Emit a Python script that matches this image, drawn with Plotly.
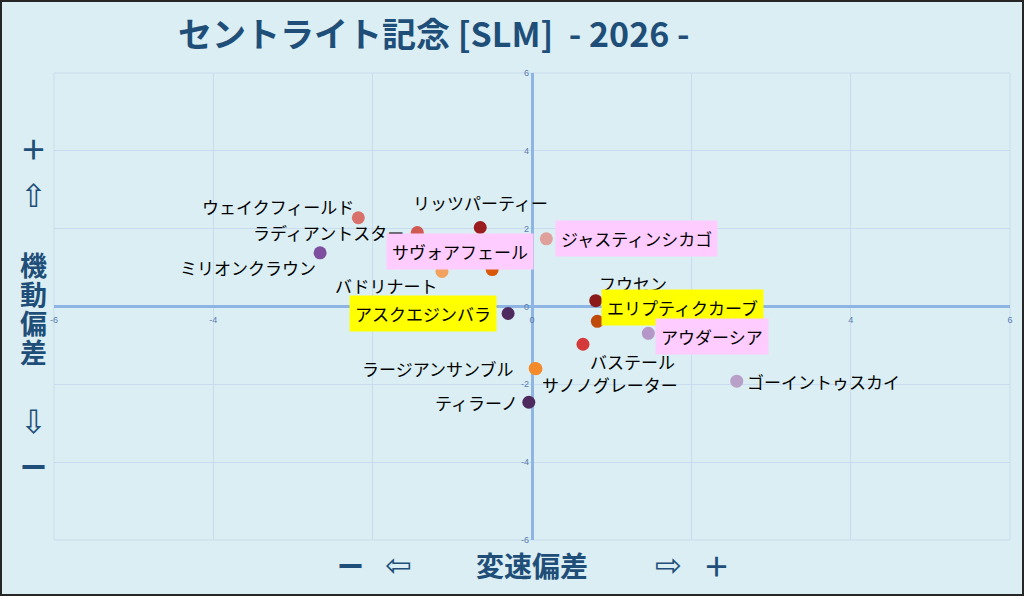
import plotly.graph_objects as go

# ---- data ----
horse_names = [
    "ウェイクフィールド", "ラディアントスター", "リッツパーティー", "ジャスティンシカゴ",
    "ミリオンクラウン", "サヴォアフェール", "バドリナート", "アスクエジンバラ",
    "フウセン", "エリプティクカーブ", "アウダーシア", "バステール",
    "ラージアンサンブル", "サノノグレーター", "ティラーノ", "ゴーイントゥスカイ",
]
speed_dev = [-2.18, -1.44, -0.65, 0.18, -2.66, -0.50, -1.13, -0.30,
             0.80, 0.82, 1.46, 0.64, 0.04, 0.05, -0.04, 2.57]
mobility_dev = [2.28, 1.90, 2.03, 1.74, 1.38, 0.95, 0.90, -0.18,
                0.15, -0.38, -0.69, -0.97, -1.59, -1.60, -2.46, -1.92]
highlight = ["", "", "", "pink", "", "pink", "", "yellow",
             "", "yellow", "pink", "", "", "", "", ""]
axis_ticks = [-6, -4, -2, 0, 2, 4, 6]

# ---- styles ----
dot_colors = ["#d9706c", "#d05a52", "#9b1c1c", "#e0a09c", "#7d4f9e", "#d9580a",
              "#f2a25e", "#4e2a5e", "#8b1a1a", "#c04a0a", "#b596c8", "#d43a3a",
              "#f58a2a", "#f58a2a", "#4e2a5e", "#b8a0c8"]
# label offset from its dot, in pixels (dx right, dy down)
label_offsets = [(-80, -11), (-89, 0), (0, -25), (90, 0), (-72, 15), (-32, -18),
                 (-55, 14), (-85, 0), (37, -17), (85, -14), (64, 3), (50, 17),
                 (-98, 0), (74, 16), (-52, 0), (87, 0)]
box_colors = {"pink": "#ffccff", "yellow": "#ffff00", "": None}

BG = "#daeef3"
NAVY = "#1f4e79"
GRID = "#c9dcef"
ZERO = "#8db4e2"
JP = "Noto Sans CJK JP, DejaVu Sans, sans-serif"

W, H = 1024, 596
ML, MR, MT, MB = 54, 14, 73, 56
PW, PH = W - ML - MR, H - MT - MB


def px(x):
    return (x - ML) / PW


def py(y):
    return (MT + PH - y) / PH


def caption(x, y, text, font):
    fig.add_annotation(x=px(x), y=py(y), xref="paper", yref="paper", text=text,
                       xanchor="center", yanchor="middle", showarrow=False, font=font)


fig = go.Figure()
fig.add_trace(go.Scatter(
    x=speed_dev, y=mobility_dev, mode="markers", text=horse_names,
    marker=dict(size=13, color=dot_colors, line=dict(width=0)),
    hovertemplate="%{text}<br>変速偏差 %{x}<br>機動偏差 %{y}<extra></extra>",
    showlegend=False,
))

for name, x, y, hl, (dx, dy) in zip(horse_names, speed_dev, mobility_dev, highlight, label_offsets):
    fig.add_annotation(
        x=x, y=y, xref="x", yref="y", text=name, showarrow=False,
        xshift=dx, yshift=-dy, xanchor="center", yanchor="middle",
        font=dict(family=JP, size=17, color="#000000"),
        bgcolor=box_colors[hl], borderpad=5,
    )

# left side axis caption
side_font = dict(family=JP, size=27, color=NAVY, weight="bold")
arrow_font = dict(family="DejaVu Sans", size=32, color=NAVY)
caption(33, 148, "＋", side_font)
caption(33, 196, "⇧", arrow_font)
for i, ch in enumerate("機動偏差"):
    caption(33, 264 + i * 29.3, ch, side_font)
caption(33, 422, "⇩", arrow_font)
caption(33, 466, "ー", side_font)

# bottom axis caption
caption(350, 565, "ー", side_font)
caption(398, 565, "⇦", arrow_font)
caption(532, 565, "変速偏差", dict(family=JP, size=28, color=NAVY, weight="bold"))
caption(668, 565, "⇨", arrow_font)
caption(716, 565, "＋", side_font)

# plot area border + outer frame
fig.add_shape(type="rect", xref="paper", yref="paper", x0=0, x1=1, y0=0, y1=1,
              line=dict(color=GRID, width=1), layer="below")
fig.add_shape(type="rect", xref="paper", yref="paper",
              x0=px(1), x1=px(W - 1), y0=py(H - 1), y1=py(1),
              line=dict(color="#262626", width=2))

axis_common = dict(
    range=[-6, 6], tickvals=axis_ticks, ticktext=[str(t) for t in axis_ticks],
    showgrid=True, gridcolor=GRID, gridwidth=1,
    zeroline=True, zerolinecolor=ZERO, zerolinewidth=3,
    showline=False, ticks="", anchor="free", position=0.5,
    tickfont=dict(family="Liberation Sans, Arial", size=9, color="#5b7bb0"),
    fixedrange=True,
)
fig.update_xaxes(**axis_common, ticklabelstandoff=6)
fig.update_yaxes(**axis_common, ticklabelstandoff=3)

fig.update_layout(
    width=W, height=H,
    margin=dict(l=ML, r=MR, t=MT, b=MB),
    paper_bgcolor=BG, plot_bgcolor=BG,
    title=dict(text="セントライト記念 [SLM]  - 2026 -", x=178 / W, xanchor="left",
               y=1 - 35 / H, yanchor="middle",
               font=dict(family=JP, size=34, color=NAVY, weight="bold")),
)

fig.write_html("out.html", config={"displayModeBar": False},
               post_script="document.body.style.margin='0';")
